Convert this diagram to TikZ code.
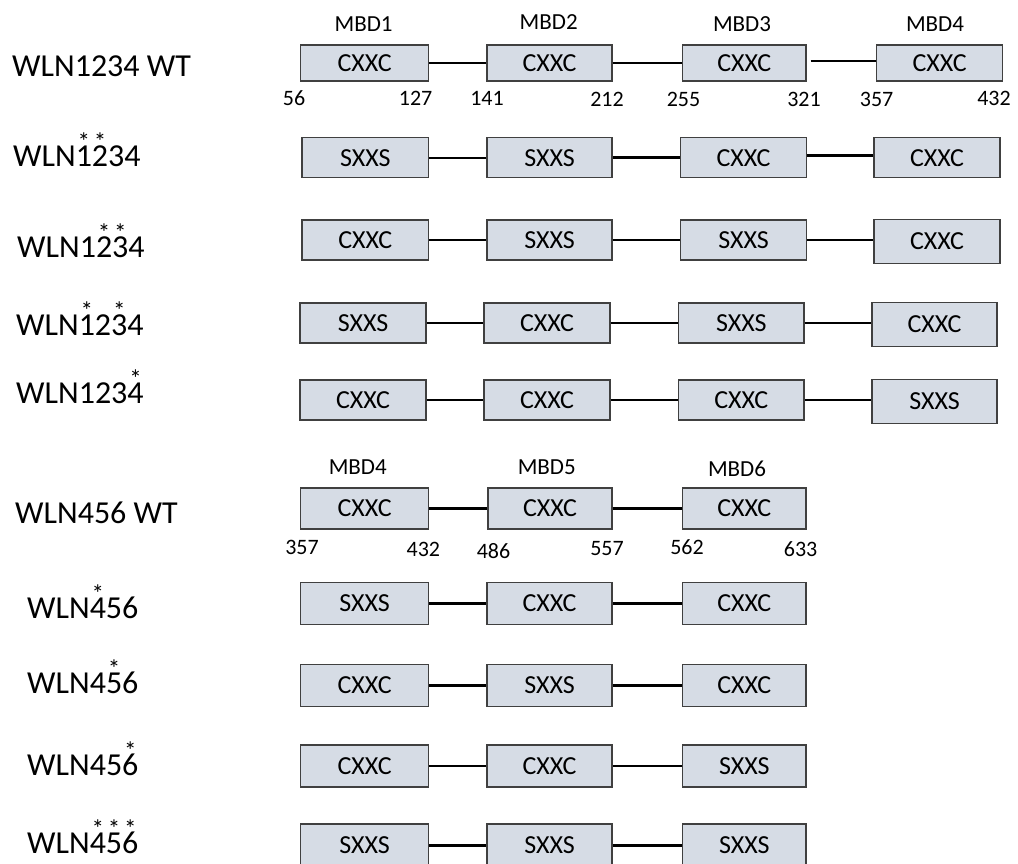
\documentclass[tikz,border=0pt]{standalone}
\usepackage{fontspec}
\setmainfont{Carlito}
\definecolor{domfill}{HTML}{D6DCE5}
\definecolor{domline}{HTML}{404040}
\newcommand\mut[1]{\ooalign{#1\cr\hidewidth\raisebox{15.5pt}{\fontsize{25}{25}\selectfont *}\hidewidth\cr}}
\newcommand\dbox[6]{\node[dom, minimum width={(#3-#2)*1pt}, minimum height=#5pt] (#1) at ({(#2+#3)/2},-#4) {#6};}
\tikzset{
  dom/.style={draw=domline, fill=domfill, line width=1.2pt, inner sep=0pt, font=\fontsize{26}{26}\selectfont},
  conn/.style={draw=black, line width=2.8pt},
  connthin/.style={draw=black, line width=1.8pt},
  rowlabel/.style={anchor=base west, inner sep=0pt, font=\fontsize{32}{32}\selectfont},
  mbd/.style={inner sep=0pt, font=\fontsize{23}{23}\selectfont},
  posnum/.style={inner sep=0pt, font=\fontsize{22}{22}\selectfont}
}
\begin{document}
\begin{tikzpicture}[x=1pt,y=1pt]
\useasboundingbox (0,0) rectangle (1018,-863);
\clip (0,0) rectangle (1018,-863);
\fill[white] (0,0) rectangle (1018,-863);

% row labels
\node[rowlabel] (l1) at (12,-76) {WLN1234 WT};
\node[rowlabel] (l2) at (13,-166) {WLN\mut{1}\mut{2}34};
\node[rowlabel] (l3) at (17,-257) {WLN1\mut{2}\mut{3}4};
\node[rowlabel] (l4) at (16,-335) {WLN\mut{1}2\mut{3}4};
\node[rowlabel] (l5) at (16,-403) {WLN123\mut{4}};
\node[rowlabel] (l6) at (15,-523) {WLN456 WT};
\node[rowlabel] (l7) at (27,-618) {WLN\mut{4}56};
\node[rowlabel] (l8) at (27,-693) {WLN4\mut{5}6};
\node[rowlabel] (l9) at (27,-775) {WLN45\mut{6}};
\node[rowlabel] (l10) at (27,-853) {WLN\mut{4}\mut{5}\mut{6}};

% row 1
\dbox{r1a}{300.6}{428.6}{63}{36}{CXXC}
\dbox{r1b}{487}{612}{63}{36}{CXXC}
\dbox{r1c}{682.5}{806}{63}{36}{CXXC}
\dbox{r1d}{876.6}{1002.6}{63}{36}{CXXC}
\draw[connthin] (r1a.east) -- (r1b.west);
\draw[conn] (r1b.east) -- (r1c.west);
\draw[conn, shorten <=4pt] ([yshift=2pt]r1c.east) -- ([yshift=2pt]r1d.west);
\node[mbd] (m1) at (363.6,-23.7) {MBD1};
\node[mbd] (m2) at (548.7,-22) {MBD2};
\node[mbd] (m3) at (742,-23.7) {MBD3};
\node[mbd] (m4) at (935,-23.7) {MBD4};
\node[posnum] (p1) at (294,-98) {56};
\node[posnum] (p2) at (415.6,-98) {127};
\node[posnum] (p3) at (487,-98) {141};
\node[posnum] (p4) at (607,-99.5) {212};
\node[posnum] (p5) at (683.5,-99.5) {255};
\node[posnum] (p6) at (804,-99.5) {321};
\node[posnum] (p7) at (876.6,-99.5) {357};
\node[posnum] (p8) at (994,-98.5) {432};

% row 2
\dbox{r2a}{302}{428.6}{157.7}{40}{SXXS}
\dbox{r2b}{487}{612}{157.7}{40}{SXXS}
\dbox{r2c}{680.5}{806.5}{157.7}{40}{CXXC}
\dbox{r2d}{874}{1000}{157.7}{40}{CXXC}
\draw[connthin] (r2a.east) -- (r2b.west);
\draw[conn] (r2b.east) -- (r2c.west);
\draw[conn] ([yshift=2pt]r2c.east) -- ([yshift=2pt]r2d.west);

% row 3
\dbox{r3a}{302}{428.6}{240}{40}{CXXC}
\dbox{r3b}{487}{612}{240}{40}{SXXS}
\dbox{r3c}{680.5}{806.5}{240}{40}{SXXS}
\dbox{r3d}{874}{1000}{241.5}{44}{CXXC}
\draw[connthin] (r3a.east) -- (r3b.west);
\draw[connthin] (r3b.east) -- (r3c.west);
\draw[conn] (r3c.east) -- (r3c.east -| r3d.west);

% row 4
\dbox{r4a}{300}{426}{323}{40}{SXXS}
\dbox{r4b}{484}{610}{323}{40}{CXXC}
\dbox{r4c}{678.6}{804}{323}{40}{SXXS}
\dbox{r4d}{872}{997}{324.5}{44}{CXXC}
\draw[connthin] (r4a.east) -- (r4b.west);
\draw[connthin] (r4b.east) -- (r4c.west);
\draw[conn] (r4c.east) -- (r4c.east -| r4d.west);

% row 5
\dbox{r5a}{300}{426}{400}{40}{CXXC}
\dbox{r5b}{484}{610}{400}{40}{CXXC}
\dbox{r5c}{678.6}{804}{400}{40}{CXXC}
\dbox{r5d}{872}{997}{401.5}{44}{SXXS}
\draw[connthin] (r5a.east) -- (r5b.west);
\draw[connthin] (r5b.east) -- (r5c.west);
\draw[conn] (r5c.east) -- (r5c.east -| r5d.west);

% row 6
\dbox{r6a}{300.6}{428.6}{508.5}{41}{CXXC}
\dbox{r6b}{488}{612}{508.5}{41}{CXXC}
\dbox{r6c}{682.5}{806}{508.5}{41}{CXXC}
\draw[conn] (r6a.east) -- (r6b.west);
\draw[conn] (r6b.east) -- (r6c.west);
\node[mbd] (m5) at (357.8,-466.7) {MBD4};
\node[mbd] (m6) at (546.8,-466.7) {MBD5};
\node[mbd] (m7) at (737,-469) {MBD6};
\node[posnum] (q1) at (302,-547.6) {357};
\node[posnum] (q2) at (423.4,-549) {432};
\node[posnum] (q3) at (493.5,-550.6) {486};
\node[posnum] (q4) at (607,-548.7) {557};
\node[posnum] (q5) at (687,-547.6) {562};
\node[posnum] (q6) at (800.6,-548.7) {633};

% row 7
\dbox{r7a}{300.6}{428.6}{603.5}{42}{SXXS}
\dbox{r7b}{487}{612}{603.5}{42}{CXXC}
\dbox{r7c}{682.5}{806}{603.5}{42}{CXXC}
\draw[conn] (r7a.east) -- (r7b.west);
\draw[conn] (r7b.east) -- (r7c.west);

% row 8
\dbox{r8a}{300.6}{428.6}{685.5}{42}{CXXC}
\dbox{r8b}{487}{612}{685.5}{42}{SXXS}
\dbox{r8c}{682.5}{806}{685.5}{42}{CXXC}
\draw[conn] (r8a.east) -- (r8b.west);
\draw[conn] (r8b.east) -- (r8c.west);

% row 9
\dbox{r9a}{300.6}{428.6}{766}{42}{CXXC}
\dbox{r9b}{487}{612}{766}{42}{CXXC}
\dbox{r9c}{682.5}{806}{766}{42}{SXXS}
\draw[conn] (r9a.east) -- (r9b.west);
\draw[conn] (r9b.east) -- (r9c.west);

% row 10
\dbox{r10a}{300.6}{428.6}{845.5}{43}{SXXS}
\dbox{r10b}{487}{612}{845.5}{43}{SXXS}
\dbox{r10c}{682.5}{806}{845.5}{43}{SXXS}
\draw[conn] (r10a.east) -- (r10b.west);
\draw[conn] (r10b.east) -- (r10c.west);
\end{tikzpicture}
\end{document}
